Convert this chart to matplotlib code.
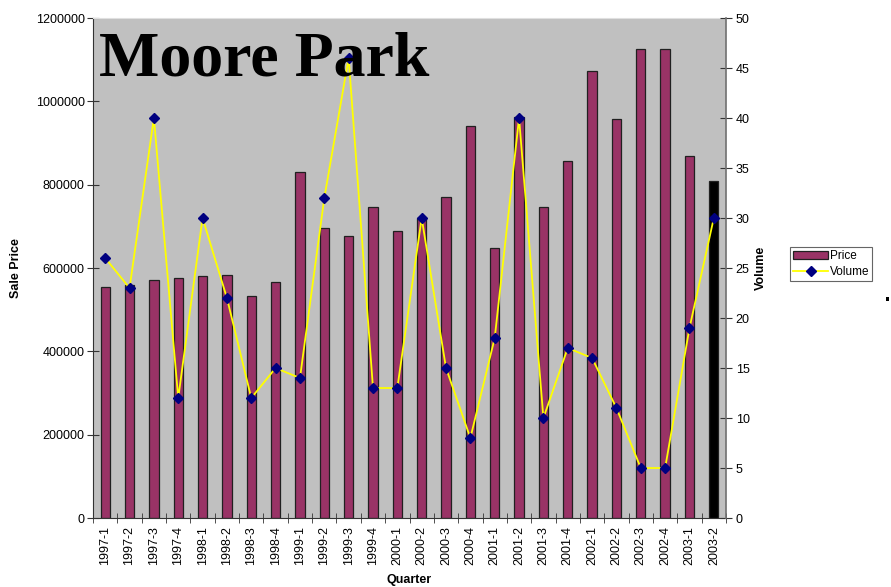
import matplotlib.pyplot as plt
from matplotlib.patches import Rectangle
from matplotlib.lines import Line2D
from matplotlib.ticker import FixedLocator

plt.rcParams['font.family'] = ['Liberation Sans', 'DejaVu Sans']

quarters = ['1997-1', '1997-2', '1997-3', '1997-4', '1998-1', '1998-2', '1998-3', '1998-4',
            '1999-1', '1999-2', '1999-3', '1999-4', '2000-1', '2000-2', '2000-3', '2000-4',
            '2001-1', '2001-2', '2001-3', '2001-4', '2002-1', '2002-2', '2002-3', '2002-4',
            '2003-1', '2003-2']
price = [555000, 560000, 571000, 576000, 581000, 584000, 533000, 566000,
         830000, 697000, 677000, 747000, 690000, 720000, 770000, 941000,
         648000, 962000, 747000, 858000, 1074000, 957000, 1125000, 1125000,
         870000, 808000]
volume = [26, 23, 40, 12, 30, 22, 12, 15, 14, 32, 46, 13, 13, 30, 15, 8,
          18, 40, 10, 17, 16, 11, 5, 5, 19, 30]

fig = plt.figure(figsize=(8.91, 5.87), dpi=100)
ax = fig.add_axes([0.1044, 0.1175, 0.7104, 0.8518])
ax.set_facecolor('#C0C0C0')

x = list(range(len(quarters)))
colors = ['#993366'] * (len(quarters) - 1) + ['#000000']
ax.bar(x, price, width=0.38, color=colors, edgecolor='#202020', linewidth=0.9, zorder=2)
ax.set_xlim(-0.5, len(quarters) - 0.5)
ax.set_ylim(0, 1200000)
ax.set_yticks(range(0, 1200001, 200000))
ax.set_yticklabels([str(v) for v in range(0, 1200001, 200000)], fontsize=9)
ax.set_xticks(x)
ax.set_xticklabels(quarters, rotation=90, fontsize=9)
ax.xaxis.set_minor_locator(FixedLocator([i + 0.5 for i in range(-1, len(quarters))]))
ax.tick_params(axis='x', which='major', length=0, pad=6)
ax.tick_params(axis='x', which='minor', length=7, direction='inout', color='#333333')
ax.tick_params(axis='y', length=8, direction='inout', color='#333333', pad=2)
ax.set_ylabel('Sale Price', fontsize=9, fontweight='bold', labelpad=10)
ax.set_xlabel('Quarter', fontsize=9, fontweight='bold', labelpad=6)
ax.spines['top'].set_color('#E0E0E0')
ax.spines['left'].set_color('#333333')
ax.spines['bottom'].set_color('#333333')
ax.spines['right'].set_visible(False)

ax2 = ax.twinx()
ax2.plot(x, volume, color='#FFFF00', linewidth=1.3, marker='D', markersize=5,
         markerfacecolor='#000080', markeredgecolor='#000080', zorder=3)
ax2.set_ylim(0, 50)
ax2.set_yticks(range(0, 51, 5))
ax2.set_yticklabels([str(v) for v in range(0, 51, 5)], fontsize=9)
ax2.tick_params(axis='y', length=8, direction='inout', color='#333333', pad=3)
ax2.set_ylabel('Volume', fontsize=9, fontweight='bold', labelpad=4)
ax2.spines['right'].set_color('#707070')
ax2.spines['right'].set_linewidth(1.2)
for s in ['top', 'left', 'bottom']:
    ax2.spines[s].set_visible(False)

handles = [Rectangle((0, 0), 1, 1, facecolor='#993366', edgecolor='#202020', linewidth=0.9),
           Line2D([], [], color='#FFFF00', linewidth=1.3, marker='D', markersize=5,
                  markerfacecolor='#000080', markeredgecolor='#000080')]
leg = fig.legend(handles, ['Price', 'Volume'], loc='upper left',
                 bbox_to_anchor=(790 / 891, 1 - 247 / 587), fontsize=8.5, frameon=True,
                 fancybox=False, edgecolor='#404040', borderpad=0.25, labelspacing=0.35,
                 handlelength=3.0, handletextpad=0.1, borderaxespad=0)
leg.get_frame().set_linewidth(0.8)

fig.text(99 / 891, 1 - 75 / 587, 'Moore Park', fontsize=46, fontweight='bold',
         family=['Liberation Serif', 'DejaVu Serif'], color='black', va='baseline', zorder=10)

fig.patches.append(Rectangle((886 / 891, 1 - 301 / 587), 3 / 891, 4 / 587,
                             transform=fig.transFigure, facecolor='black', edgecolor='none'))

fig.savefig('out.png', dpi=100)
